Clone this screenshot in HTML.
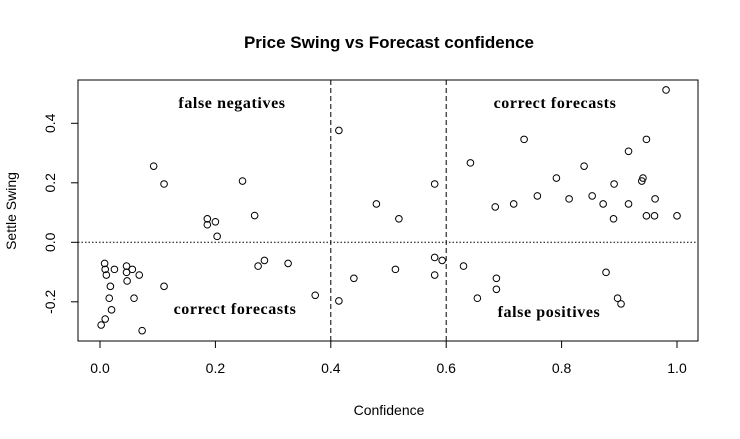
<!DOCTYPE html>
<html><head><meta charset="utf-8"><style>
body{margin:0;background:#fff}
svg{display:block;font-family:"Liberation Sans",Arial,sans-serif}
.ann{font-family:"Liberation Serif",serif;font-size:16px;font-weight:bold;letter-spacing:0.6px}
</style></head><body>
<svg id="chart" width="740" height="439" viewBox="0 0 740 439">
<rect width="740" height="439" fill="#fff"/>
<text x="389" y="48" text-anchor="middle" font-size="17" font-weight="bold">Price Swing vs Forecast confidence</text>
<text x="389" y="415" text-anchor="middle" font-size="14">Confidence</text>
<text transform="translate(16,211) rotate(-90)" text-anchor="middle" font-size="14">Settle Swing</text>
<rect x="78" y="80" width="620" height="261" fill="none" stroke="#000" stroke-width="1"/>
<g id="axes"></g>
<g id="marks"></g>
<text class="ann" x="232" y="108" text-anchor="middle">false negatives</text>
<text class="ann" x="555" y="108" text-anchor="middle">correct forecasts</text>
<text class="ann" x="235" y="314" text-anchor="middle">correct forecasts</text>
<text class="ann" x="549" y="317" text-anchor="middle">false positives</text>
</svg>
<script>
const xTicks=[0,0.2,0.4,0.6,0.8,1.0];
const xTickLabels=["0.0","0.2","0.4","0.6","0.8","1.0"];
const yTicks=[-0.2,0,0.2,0.4];
const yTickLabels=["-0.2","0.0","0.2","0.4"];
const confidence=[0.008,0.009,0.011,0.025,0.046,0.046,0.056,0.068,0.047,0.018,0.016,0.02,0.009,0.002,0.073,0.059,0.111,0.093,0.111,0.186,0.186,0.2,0.203,0.247,0.268,0.274,0.285,0.326,0.373,0.414,0.414,0.479,0.44,
0.518,0.512,0.58,0.58,0.593,0.58,0.63,0.642,0.654,0.685,0.687,0.687,0.717,0.735,0.758,0.791,0.813,0.839,0.853,0.872,0.877,0.89,0.891,0.897,0.903,0.916,0.916,0.939,0.941,0.947,0.947,0.961,0.962,0.981,1.0];
const swing=[-0.071,-0.091,-0.11,-0.091,-0.08,-0.101,-0.091,-0.11,-0.13,-0.148,-0.188,-0.227,-0.258,-0.278,-0.297,-0.188,-0.148,0.256,0.196,0.079,0.059,0.069,0.02,0.206,0.09,-0.08,-0.061,-0.071,-0.178,0.376,-0.197,0.129,-0.121,
0.079,-0.091,0.196,-0.051,-0.061,-0.11,-0.08,0.267,-0.188,0.119,-0.121,-0.158,0.129,0.346,0.156,0.216,0.146,0.256,0.156,0.129,-0.101,0.079,0.196,-0.188,-0.207,0.306,0.129,0.206,0.216,0.346,0.089,0.089,0.146,0.512,0.089];
const vLines=[0.4,0.6];
const hLine=0;
const NS="http://www.w3.org/2000/svg";
const X=v=>100+v*577;
const Y=v=>242.3-v*297.5;
function mk(tag,attrs,parent){const e=document.createElementNS(NS,tag);for(const k in attrs)e.setAttribute(k,attrs[k]);parent.appendChild(e);return e;}
const axes=document.getElementById('axes'),marks=document.getElementById('marks');
mk('line',{x1:X(0),x2:X(1),y1:341,y2:341,stroke:'#000'},axes);
xTicks.forEach((t,i)=>{
  const l=mk('line',{x1:X(t),x2:X(t),y1:341,y2:348,stroke:'#000'},axes);
  
  
  const tx=mk('text',{x:X(t),y:373,'text-anchor':'middle','font-size':'14'},axes);tx.textContent=xTickLabels[i];
  
  
});
mk('line',{x1:78,x2:78,y1:Y(-0.2),y2:Y(0.4),stroke:'#000'},axes);
yTicks.forEach((t,i)=>{
  const l=mk('line',{x1:71,x2:78,y1:Y(t),y2:Y(t),stroke:'#000'},axes);
  
  
  const tx=mk('text',{transform:`translate(55,${Y(t)}) rotate(-90)`,'text-anchor':'middle','font-size':'14'},axes);tx.textContent=yTickLabels[i];
  
  
});
vLines.forEach(v=>{
  const l=mk('line',{x1:X(v),x2:X(v),y1:80,y2:341,stroke:'#000','stroke-dasharray':'5,3'},axes);
  
  
});
const hl=mk('line',{x1:78,x2:698,y1:Y(hLine),y2:Y(hLine),stroke:'#000','stroke-dasharray':'1.5,2'},axes);


confidence.forEach((c,i)=>{
  const p=mk('circle',{cx:X(c),cy:Y(swing[i]),r:3.3,fill:'none',stroke:'#000','stroke-width':1},marks);
  
  
});
</script>
</body></html>
